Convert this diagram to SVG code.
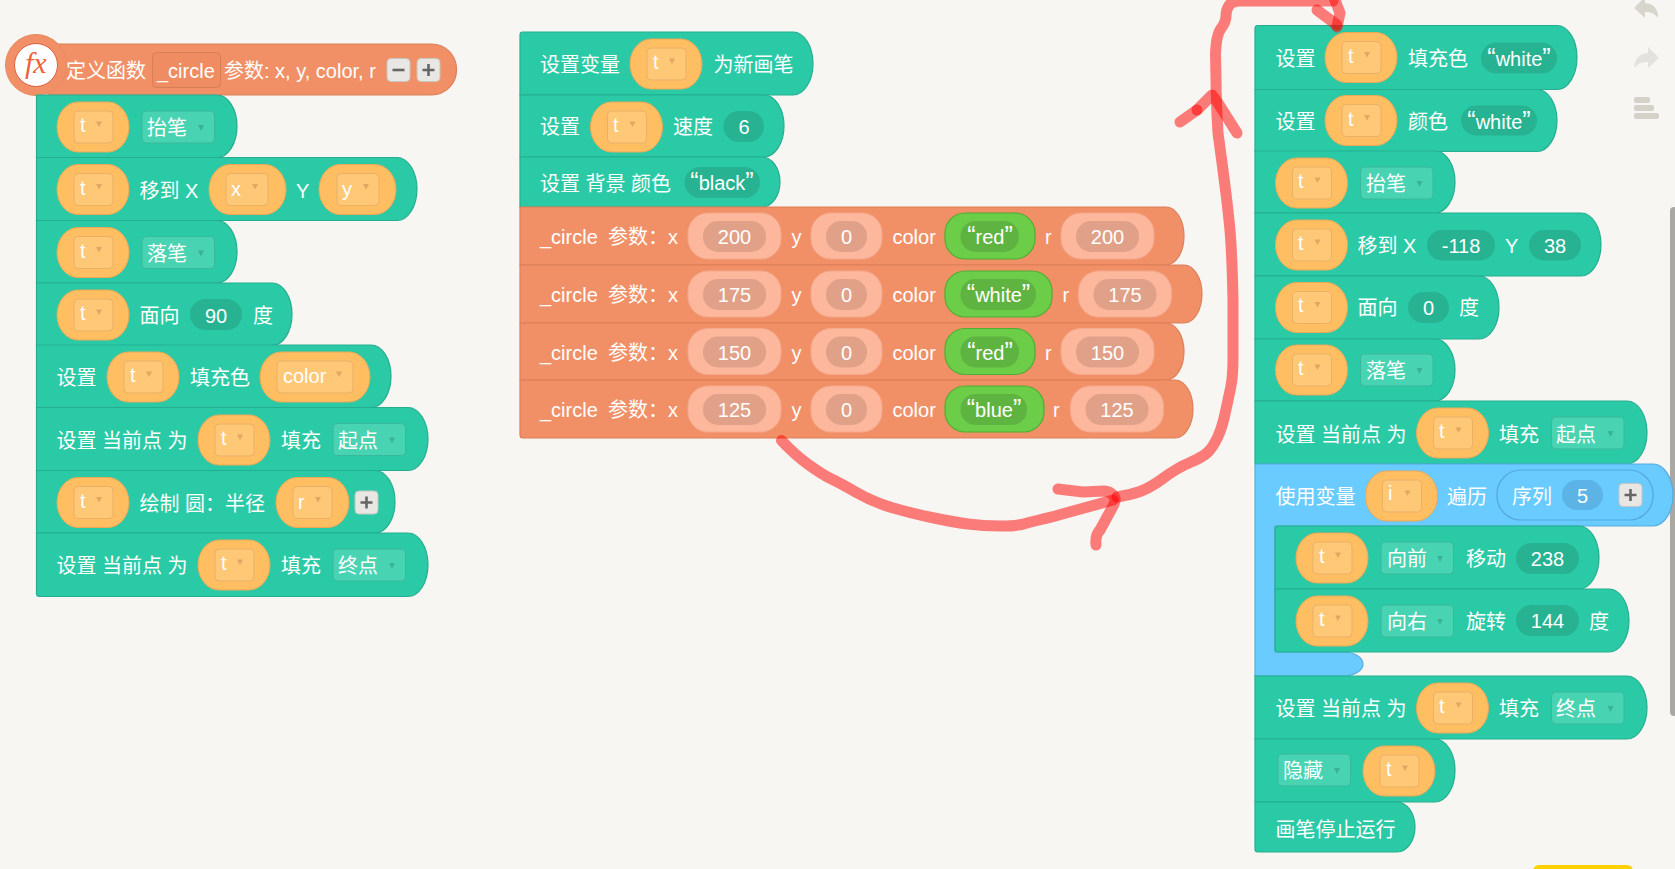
<svg xmlns="http://www.w3.org/2000/svg" width="1675" height="869" viewBox="0 0 1675 869">
<style>
text{fill:#fff;font-family:"Liberation Sans","Noto Sans CJK SC",sans-serif;font-size:20px}
.m{text-anchor:middle}
.q{font-size:25px}
.row{fill:#2bcaa6;stroke:#25ad8f;stroke-width:1.2}
.org{fill:#f19066;stroke:#dc7f59;stroke-width:1.2}
.pill{fill:#27b292}
.out{fill:#fdb79c;stroke:#f5a88b;stroke-width:1}
.inn{fill:#e0a188}
.gout{fill:#6bcd48;stroke:#4fae33;stroke-width:1.2}
.ginn{fill:#5fb441}
.rp{fill:#ffbe62;stroke:#eba957;stroke-width:1}
.ri{fill:#ffc877;stroke:#e9b068;stroke-width:1}
.ra{fill:#dfa764}
.dd{fill:#48d3b2;stroke:#38b99b;stroke-width:1}
.da{fill:#39b296}
.btn{fill:#e9e7e3;stroke:#c8c6c1;stroke-width:1}
.ic{fill:none;stroke:#666;stroke-width:2.6}
.red{fill:none;stroke:#f00;stroke-opacity:.5;stroke-width:11;stroke-linecap:round;stroke-linejoin:round}
</style>
<defs>
<g id="rep"><rect class="rp" width="72" height="50" rx="21" ry="25"/><rect class="ri" x="17" y="9" width="39" height="32" rx="4"/><path class="ra" d="M39 19.500h6l-3 5.500z"/></g>
<g id="dd"><rect class="dd" width="72.500" height="32" rx="4"/><path class="da" d="M56 14h6l-3 6z"/></g>
<g id="plus"><rect class="btn" width="23" height="23" rx="4"/><path class="ic" d="M5.500 11.500h12M11.500 5.500v12"/></g>
<g id="minus"><rect class="btn" width="23" height="23" rx="4"/><path class="ic" d="M5.500 11.500h12"/></g>
</defs>
<rect width="1675" height="869" fill="#f7f6f2"/>

<g id="chrome">
<path fill="#d8d5cc" d="M1645-3 1634 8l11 10v-6q8-1 13 6 0-14-13-15z"/>
<path fill="#e4e2dc" d="M1648 47l11 11-11 10v-6q-8-1-14 6 1-14 14-15z"/>
<g fill="#d4d1c8"><rect x="1634" y="97" width="16" height="6" rx="2"/><rect x="1634" y="105" width="20" height="6" rx="2"/><rect x="1634" y="113" width="25" height="6" rx="2"/></g>
<rect x="1670" y="207" width="8" height="509" rx="4" fill="#aaa8a3"/>
<rect x="1533" y="865" width="100" height="12" rx="6" fill="#ffd000"/>
</g>

<g id="func-header">
<rect class="org" x="30" y="44" width="426.500" height="51" rx="25"/>
<circle cx="36" cy="65" r="30.500" fill="#f19066" stroke="#e88a60"/>
<circle cx="36" cy="65" r="21.500" fill="#fff" stroke="#e0603c"/>
<text x="25" y="73" style="fill:#f0613a;font-family:'Liberation Serif',serif;font-style:italic;font-size:30px">fx</text>
<text x="66" y="78">定义函数</text>
<rect x="152.500" y="52.500" width="68" height="35" rx="4" fill="#ef8c62" stroke="#d47f58"/>
<text x="157" y="78">_circle</text>
<text x="224" y="78">参数: x, y, color, r</text>
<use href="#minus" x="387" y="58.500"/><use href="#plus" x="417" y="58.500"/>
</g>

<g id="left-1" transform="translate(0,95)"><path class="row" d="M36.500 0H217a20 31.250 0 0 1 0 62.500H36.500z"/><use href="#rep" x="57" y="7"/><text x="80" y="37">t</text><use href="#dd" x="142" y="16"/><text x="147" y="40">抬笔</text></g>
<g id="left-2" transform="translate(0,157.500)"><path class="row" d="M36.500 0H397a20 31.500 0 0 1 0 63H36.500z"/><use href="#rep" x="57" y="7"/><text x="80" y="37">t</text><text x="139.500" y="40">移到 X</text>
<rect class="rp" x="209" y="7" width="77" height="50" rx="21" ry="25"/><rect class="ri" x="226" y="16" width="42" height="32" rx="4"/><path class="ra" d="M252 26.500h6l-3 5.500z"/><text x="231" y="38">x</text><text x="296" y="40">Y</text>
<rect class="rp" x="319" y="7" width="77" height="50" rx="21" ry="25"/><rect class="ri" x="337" y="16" width="42" height="32" rx="4"/><path class="ra" d="M363 26.500h6l-3 5.500z"/><text x="342" y="38">y</text></g>
<g id="left-3" transform="translate(0,220.500)"><path class="row" d="M36.500 0H217a20 31.250 0 0 1 0 62.500H36.500z"/><use href="#rep" x="57" y="7"/><text x="80" y="37">t</text><use href="#dd" x="142" y="16"/><text x="147" y="40">落笔</text></g>
<g id="left-4" transform="translate(0,283)"><path class="row" d="M36.500 0H272a20 31.250 0 0 1 0 62.500H36.500z"/><use href="#rep" x="57" y="7"/><text x="80" y="37">t</text><text x="139.500" y="40">面向</text><rect class="pill" x="190" y="16" width="52" height="31" rx="15.500"/><text class="m" x="216" y="40">90</text><text x="253" y="40">度</text></g>
<g id="left-5" transform="translate(0,345)"><path class="row" d="M36.500 0H371a20 31.250 0 0 1 0 62.500H36.500z"/><text x="56.500" y="40">设置</text><use href="#rep" x="107" y="7"/><text x="130" y="37">t</text><text x="190" y="40">填充色</text>
<rect class="rp" x="260" y="7" width="110" height="50" rx="21" ry="25"/><rect class="ri" x="277" y="16" width="76" height="32" rx="4"/><path class="ra" d="M336 26.500h6l-3 5.500z"/><text x="283" y="38">color</text></g>
<g id="left-6" transform="translate(0,407.500)"><path class="row" d="M36.500 0H408a20 31.500 0 0 1 0 63H36.500z"/><text x="56.500" y="40">设置 当前点 为</text><use href="#rep" x="198" y="7.500"/><text x="221" y="37">t</text><text x="281" y="40">填充</text><use href="#dd" x="333" y="16"/><text x="338" y="40">起点</text></g>
<g id="left-7" transform="translate(0,470.500)"><path class="row" d="M36.500 0H375a20 31.250 0 0 1 0 62.500H36.500z"/><use href="#rep" x="57" y="7"/><text x="80" y="37">t</text><text x="139.500" y="40">绘制 圆：半径</text>
<rect class="rp" x="276" y="7" width="73" height="50" rx="21" ry="25"/><rect class="ri" x="293" y="16" width="39" height="32" rx="4"/><path class="ra" d="M315 26.500h6l-3 5.500z"/><text x="298" y="38">r</text><use href="#plus" x="355" y="20.500"/></g>
<g id="left-8" transform="translate(0,533)"><path class="row" d="M36.500 0H408a20 31.750 0 0 1 0 63.500H39.500q-3 0-3-3z"/><text x="56.500" y="40">设置 当前点 为</text><use href="#rep" x="198" y="7"/><text x="221" y="37">t</text><text x="281" y="40">填充</text><use href="#dd" x="333" y="16"/><text x="338" y="40">终点</text></g>

<g id="mid-1" transform="translate(0,32)"><path class="row" d="M520 3q0-3 3-3H793a20 31.500 0 0 1 0 63H520z"/><text x="540" y="40">设置变量</text><use href="#rep" x="630" y="7"/><text x="653" y="37">t</text><text x="713.500" y="40">为新画笔</text></g>
<g id="mid-2" transform="translate(0,95)"><path class="row" d="M520 0H764a20 31 0 0 1 0 62H520z"/><text x="540" y="39">设置</text><use href="#rep" x="590.500" y="7"/><text x="613" y="37">t</text><text x="673" y="39">速度</text><rect class="pill" x="723.500" y="16" width="40.500" height="31" rx="15.500"/><text class="m" x="744" y="39">6</text></g>
<g id="mid-3" transform="translate(0,157)"><path class="row" d="M520 0H762a18 25 0 0 1 0 50H520z"/><text x="540" y="34">设置 背景 颜色</text><rect class="pill" x="684.500" y="10" width="75.500" height="31" rx="15.500"/><text class="m" x="722" y="33"><tspan class="q">“</tspan>black<tspan class="q">”</tspan></text></g>

<g id="call-200" transform="translate(0,207)"><path class="org" d="M520 0H1166a18 29 0 0 1 0 58H520z"/><text x="540" y="37">_circle</text><text x="608" y="37">参数：x</text>
<rect class="out" x="688" y="6" width="93" height="46" rx="20"/><rect class="inn" x="703" y="14" width="63" height="31" rx="15"/><text class="m" x="734.500" y="37">200</text><text x="791.500" y="37">y</text>
<rect class="out" x="811" y="6" width="71" height="46" rx="20"/><rect class="inn" x="826" y="14" width="41" height="31" rx="15"/><text class="m" x="846.500" y="37">0</text><text x="892.500" y="37">color</text>
<rect class="gout" x="945" y="6" width="90" height="46" rx="20"/><rect class="ginn" x="960.500" y="14" width="58.500" height="31" rx="15"/><text class="m" x="990" y="37"><tspan class="q">“</tspan>red<tspan class="q">”</tspan></text><text x="1045" y="37">r</text>
<rect class="out" x="1061" y="6" width="93" height="46" rx="20"/><rect class="inn" x="1076" y="14" width="63" height="31" rx="15"/><text class="m" x="1107.500" y="37">200</text></g>
<g id="call-175" transform="translate(0,265)"><path class="org" d="M520 0H1184a18 29 0 0 1 0 58H520z"/><text x="540" y="37">_circle</text><text x="608" y="37">参数：x</text>
<rect class="out" x="688" y="6" width="93" height="46" rx="20"/><rect class="inn" x="703" y="14" width="63" height="31" rx="15"/><text class="m" x="734.500" y="37">175</text><text x="791.500" y="37">y</text>
<rect class="out" x="811" y="6" width="71" height="46" rx="20"/><rect class="inn" x="826" y="14" width="41" height="31" rx="15"/><text class="m" x="846.500" y="37">0</text><text x="892.500" y="37">color</text>
<rect class="gout" x="945" y="6" width="107" height="46" rx="20"/><rect class="ginn" x="960.500" y="14" width="75.500" height="31" rx="15"/><text class="m" x="998.500" y="37"><tspan class="q">“</tspan>white<tspan class="q">”</tspan></text><text x="1062.500" y="37">r</text>
<rect class="out" x="1078.500" y="6" width="93" height="46" rx="20"/><rect class="inn" x="1093.500" y="14" width="63" height="31" rx="15"/><text class="m" x="1125" y="37">175</text></g>
<g id="call-150" transform="translate(0,323)"><path class="org" d="M520 0H1166a18 28.500 0 0 1 0 57H520z"/><text x="540" y="37">_circle</text><text x="608" y="37">参数：x</text>
<rect class="out" x="688" y="5.500" width="93" height="46" rx="20"/><rect class="inn" x="703" y="13.500" width="63" height="31" rx="15"/><text class="m" x="734.500" y="36.500">150</text><text x="791.500" y="37">y</text>
<rect class="out" x="811" y="5.500" width="71" height="46" rx="20"/><rect class="inn" x="826" y="13.500" width="41" height="31" rx="15"/><text class="m" x="846.500" y="36.500">0</text><text x="892.500" y="37">color</text>
<rect class="gout" x="945" y="5.500" width="90" height="46" rx="20"/><rect class="ginn" x="960.500" y="13.500" width="58.500" height="31" rx="15"/><text class="m" x="990" y="37"><tspan class="q">“</tspan>red<tspan class="q">”</tspan></text><text x="1045" y="37">r</text>
<rect class="out" x="1061" y="5.500" width="93" height="46" rx="20"/><rect class="inn" x="1076" y="13.500" width="63" height="31" rx="15"/><text class="m" x="1107.500" y="36.500">150</text></g>
<g id="call-125" transform="translate(0,380)"><path class="org" d="M520 0H1175a18 29 0 0 1 0 58H523q-3 0-3-3z"/><text x="540" y="37">_circle</text><text x="608" y="37">参数：x</text>
<rect class="out" x="688" y="6" width="93" height="46" rx="20"/><rect class="inn" x="703" y="14" width="63" height="31" rx="15"/><text class="m" x="734.500" y="37">125</text><text x="791.500" y="37">y</text>
<rect class="out" x="811" y="6" width="71" height="46" rx="20"/><rect class="inn" x="826" y="14" width="41" height="31" rx="15"/><text class="m" x="846.500" y="37">0</text><text x="892.500" y="37">color</text>
<rect class="gout" x="945" y="6" width="99" height="46" rx="20"/><rect class="ginn" x="960.500" y="14" width="66.500" height="31" rx="15"/><text class="m" x="994" y="37"><tspan class="q">“</tspan>blue<tspan class="q">”</tspan></text><text x="1053" y="37">r</text>
<rect class="out" x="1070.500" y="6" width="93" height="46" rx="20"/><rect class="inn" x="1085.500" y="14" width="63" height="31" rx="15"/><text class="m" x="1117" y="37">125</text></g>

<g id="right-1" transform="translate(0,25.500)"><path class="row" d="M1255 3q0-3 3-3H1557a20 32 0 0 1 0 64H1255z"/><text x="1275.500" y="40">设置</text><use href="#rep" x="1325" y="7"/><text x="1348" y="37">t</text><text x="1408" y="40">填充色</text><rect class="pill" x="1481" y="17" width="76" height="31" rx="15.500"/><text class="m" x="1519" y="40"><tspan class="q">“</tspan>white<tspan class="q">”</tspan></text></g>
<g id="right-2" transform="translate(0,89.500)"><path class="row" d="M1255 0H1537a20 31 0 0 1 0 62H1255z"/><text x="1275.500" y="39">设置</text><use href="#rep" x="1325" y="6"/><text x="1348" y="36">t</text><text x="1408" y="39">颜色</text><rect class="pill" x="1461" y="16" width="76" height="30" rx="15"/><text class="m" x="1499" y="39"><tspan class="q">“</tspan>white<tspan class="q">”</tspan></text></g>
<g id="right-3" transform="translate(0,151)"><path class="row" d="M1255 0H1435a20 31 0 0 1 0 62H1255z"/><use href="#rep" x="1275.500" y="7"/><text x="1298" y="37">t</text><use href="#dd" x="1360.500" y="16"/><text x="1366" y="40">抬笔</text></g>
<g id="right-4" transform="translate(0,213)"><path class="row" d="M1255 0H1581a20 31.500 0 0 1 0 63H1255z"/><use href="#rep" x="1275.500" y="7"/><text x="1298" y="37">t</text><text x="1357.500" y="40">移到 X</text><rect class="pill" x="1427" y="17" width="68" height="30.500" rx="15"/><text class="m" x="1461" y="40">-118</text><text x="1505" y="40">Y</text><rect class="pill" x="1529" y="17" width="52" height="30.500" rx="15"/><text class="m" x="1555" y="40">38</text></g>
<g id="right-5" transform="translate(0,276)"><path class="row" d="M1255 0H1479a20 31.500 0 0 1 0 63H1255z"/><use href="#rep" x="1275.500" y="6.500"/><text x="1298" y="36">t</text><text x="1357.500" y="39">面向</text><rect class="pill" x="1408" y="16" width="41" height="31" rx="15.500"/><text class="m" x="1428.500" y="39">0</text><text x="1459" y="39">度</text></g>
<g id="right-6" transform="translate(0,339)"><path class="row" d="M1255 0H1435a20 31 0 0 1 0 62H1255z"/><use href="#rep" x="1275.500" y="6"/><text x="1298" y="36">t</text><use href="#dd" x="1360.500" y="15"/><text x="1366" y="39">落笔</text></g>
<g id="right-7" transform="translate(0,401)"><path class="row" d="M1255 0H1627a20 31.500 0 0 1 0 63H1255z"/><text x="1275.500" y="40.500">设置 当前点 为</text><use href="#rep" x="1416.500" y="7"/><text x="1439" y="37">t</text><text x="1499" y="40.500">填充</text><use href="#dd" x="1551.500" y="16"/><text x="1556" y="40.500">起点</text></g>

<g id="loop">
<path fill="#69cbff" stroke="#55acdf" stroke-width="1.200" d="M1255 464H1653a20 31 0 0 1 0 62H1275V652H1343a20 12 0 0 1 0 24H1255z"/>
<text x="1275.500" y="504">使用变量</text><use href="#rep" x="1365.500" y="471"/><text x="1388" y="500">i</text><text x="1447" y="504">遍历</text>
<rect x="1497" y="470" width="156" height="50" rx="24" fill="#69cbff" stroke="#55a8da" stroke-width="1.200"/><text x="1512" y="504">序列</text><rect x="1562" y="480" width="41" height="30" rx="15" fill="#5bb3e6"/><text class="m" x="1582.500" y="503">5</text><use href="#plus" x="1619" y="483.500"/>
</g>
<g id="loop-1" transform="translate(0,526)"><path class="row" d="M1275 3q0-3 3-3H1579a20 31.500 0 0 1 0 63H1275z"/><use href="#rep" x="1296" y="7"/><text x="1319" y="37">t</text><use href="#dd" x="1381" y="16"/><text x="1387" y="40">向前</text><text x="1466" y="40">移动</text><rect class="pill" x="1516" y="17" width="63" height="31" rx="15.500"/><text class="m" x="1547.500" y="40">238</text></g>
<g id="loop-2" transform="translate(0,589)"><path class="row" d="M1275 0H1609a20 31.500 0 0 1 0 63H1278q-3 0-3-3z"/><use href="#rep" x="1296" y="7"/><text x="1319" y="37">t</text><use href="#dd" x="1381" y="16"/><text x="1387" y="40">向右</text><text x="1466" y="40">旋转</text><rect class="pill" x="1516" y="16" width="63" height="31" rx="15.500"/><text class="m" x="1547.500" y="39">144</text><text x="1589" y="40">度</text></g>

<g id="right-8" transform="translate(0,676)"><path class="row" d="M1255 0H1627a20 31.500 0 0 1 0 63H1255z"/><text x="1275.500" y="40">设置 当前点 为</text><use href="#rep" x="1416.500" y="7"/><text x="1439" y="37">t</text><text x="1499" y="40">填充</text><use href="#dd" x="1551.500" y="16"/><text x="1556" y="40">终点</text></g>
<g id="right-9" transform="translate(0,739)"><path class="row" d="M1255 0H1435a20 31.500 0 0 1 0 63H1255z"/><use href="#dd" x="1278" y="15"/><text x="1283" y="39">隐藏</text><use href="#rep" x="1363" y="7"/><text x="1386" y="37">t</text></g>
<g id="right-10" transform="translate(0,802)"><path class="row" d="M1255 0H1397a18 25 0 0 1 0 50H1258q-3 0-3-3z"/><text x="1275.500" y="35">画笔停止运行</text></g>

<g id="connectors">
<path class="red" d="M781.500 440.500Q795 455 809 465Q823 475 831.500 479Q840 483 856.500 492.500Q873 502 891.500 507.500Q910 513 931.500 517.500Q953 522 968 524Q983 526 1000 526Q1017 526 1023.500 524Q1030 522 1039 520Q1048 518 1060.500 514.500L1113 500"/>
<path class="red" d="M1058 489 1083 492 1104 491Q1110 491 1114 496Q1117 500 1112 508L1100 530Q1095 535 1096 545"/>
<path class="red" d="M1117 497Q1130 495 1140 491.500Q1150 488 1163.500 478Q1177 468 1190 462.500Q1203 457 1208 452Q1213 447 1217.500 437.500Q1222 428 1225 414Q1228 400 1230.500 388.500Q1233 377 1233 358L1233 300Q1232 250 1229.500 225Q1227 200 1222.500 166.500L1218 133Q1216 100 1216 78L1215.500 55Q1216 35 1221 28.500Q1226 22 1226 16Q1226 10 1229 5.500Q1232 1 1240 1L1333 1"/>
<path class="red" d="M1180 122 1197 110"/>
<path class="red" d="M1197 110 1212 95 1218 103 1237 133"/>
<path class="red" d="M1317 10 1337 25"/>
<path class="red" d="M1333 -5 1340 13 1337 27"/>
</g>
</svg>
